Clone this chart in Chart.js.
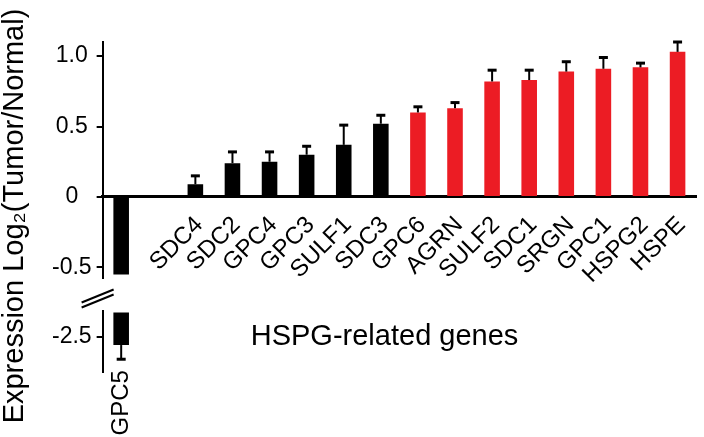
<!DOCTYPE html>
<html>
<head>
<meta charset="utf-8">
<script src="https://cdn.jsdelivr.net/npm/chart.js@4.4.1/dist/chart.umd.min.js"></script>
<style>
    html, body { margin: 0; padding: 0; background: #fff; }
    #wrap { width: 704px; height: 437px; }
</style>
</head>
<body>
<div id="wrap"><canvas id="hspgChart"></canvas></div>
<script>
// Genes (the empty slot is the gap after the GPC5 column)
const genes = ['GPC5', '', 'SDC4', 'SDC2', 'GPC4', 'GPC3', 'SULF1', 'SDC3',
    'GPC6', 'AGRN', 'SULF2', 'SDC1', 'SRGN', 'GPC1', 'HSPG2', 'HSPE'];

// Mean expression, log2(tumor/normal), and its error
const expression = [-2.56, null, 0.09, 0.24, 0.25, 0.30, 0.37, 0.52,
    0.60, 0.63, 0.82, 0.83, 0.89, 0.91, 0.92, 1.03];
const errors = [0.10, null, 0.06, 0.08, 0.07, 0.06, 0.14, 0.06,
    0.04, 0.04, 0.08, 0.07, 0.07, 0.08, 0.03, 0.07];

// Significantly up-regulated genes (red bars)
const upregulated = [false, false, false, false, false, false, false, false,
    true, true, true, true, true, true, true, true];

// Tick labels on the two parts of the broken axis
const upperTicks = [-0.5, 0, 0.5, 1.0];
const lowerTicks = [-2.5];

// The value axis is cut between these two values
const breakFrom = -0.55;
const breakTo = -2.33;

const brokenGene = 'GPC5';
const yTitle = 'Expression Log\u2082(Tumor/Normal)';
const note = 'HSPG-related genes';
const fontFamily = "'Liberation Sans', Arial, Helvetica, sans-serif";

Chart.defaults.font.family = fontFamily;
Chart.defaults.color = '#000';

// Bars above the cut and the part of the bars below it
const upperBars = expression.map(function (v) {
    return v === null ? null : Math.max(v, breakFrom);
});
const lowerBars = expression.map(function (v) {
    return v !== null && v < breakTo ? [breakTo, v] : null;
});
const barColors = upregulated.map(function (up) {
    return up ? '#ec1c24' : '#000';
});

function tickText(v) {
    return v === 0 ? '0' : v.toFixed(1);
}

// Error bars, axis break marks, y title and the note
const extras = {
    id: 'extras',
    afterDatasetsDraw(chart) {
        const ctx = chart.ctx;
        const area = chart.chartArea;
        const s = chart.scales;

        ctx.save();
        ctx.strokeStyle = '#000';
        [0, 1].forEach(function (di) {
            const meta = chart.getDatasetMeta(di);
            const yScale = s[meta.yAxisID];
            meta.data.forEach(function (bar, i) {
                const v = expression[i];
                if (v === null || v < yScale.min || v > yScale.max) return;
                const end = v < 0 ? v - errors[i] : v + errors[i];
                const y0 = yScale.getPixelForValue(v);
                const y1 = yScale.getPixelForValue(end);
                ctx.lineWidth = 2;
                ctx.beginPath();
                ctx.moveTo(bar.x, y0);
                ctx.lineTo(bar.x, y1);
                ctx.stroke();
                ctx.lineWidth = 3;
                ctx.beginPath();
                ctx.moveTo(bar.x - 4.5, y1);
                ctx.lineTo(bar.x + 4.5, y1);
                ctx.stroke();
            });
        });

        // the two slashes of the axis break
        const cy = (s.gap.top + s.gap.bottom) / 2 + 4;
        const cx = area.left - 5;
        ctx.lineWidth = 2;
        [-2.5, 2.5].forEach(function (d) {
            ctx.beginPath();
            ctx.moveTo(cx - 16, cy + d + 6.5);
            ctx.lineTo(cx + 16, cy + d - 6.5);
            ctx.stroke();
        });

        ctx.fillStyle = '#000';
        ctx.font = '29px ' + fontFamily;
        ctx.textAlign = 'center';
        ctx.textBaseline = 'middle';
        ctx.fillText(note, area.left + area.width * 0.475, s.yLow.getPixelForValue(-2.5));

        ctx.translate(15, chart.height / 2 - 2.5);
        ctx.rotate(-Math.PI / 2);
        ctx.fillText(yTitle, 0, 0);
        ctx.restore();
    }
};

const yAxisCommon = {
    type: 'linear',
    position: 'left',
    stack: 'value',
    grid: { drawOnChartArea: false, color: '#000', lineWidth: 2, tickLength: 6 },
    border: { color: '#000', width: 2 },
    ticks: { font: { size: 23 }, padding: 5, crossAlign: 'center', callback: tickText }
};

const config = {
    type: 'bar',
    data: {
        labels: genes,
        datasets: [{
            label: 'above break',
            data: upperBars,
            yAxisID: 'y',
            backgroundColor: barColors,
            grouped: false,
            categoryPercentage: 1,
            barPercentage: 0.42
        },
        {
            label: 'below break',
            data: lowerBars,
            yAxisID: 'yLow',
            backgroundColor: barColors,
            grouped: false,
            categoryPercentage: 1,
            barPercentage: 0.42
        }]
    },
    options: {
        responsive: true,
        maintainAspectRatio: false,
        animation: false,
        layout: { padding: { top: 42, right: 2, bottom: 65, left: 47 } },
        plugins: {
            legend: { display: false },
            tooltip: { enabled: false }
        },
        scales: {
            x: {
                type: 'category',
                position: { y: 0 },
                z: 1,
                grid: { display: false },
                border: { display: true, color: '#000', width: 3 },
                ticks: {
                    autoSkip: false,
                    minRotation: 45,
                    maxRotation: 45,
                    padding: 6,
                    labelOffset: 4,
                    font: { size: 24 },
                    callback: function (v, i) {
                        return genes[i] === brokenGene || genes[i] === '' ? null : genes[i];
                    }
                }
            },
            x2: {
                type: 'category',
                position: { yLow: -2.68 },
                offset: true,
                grid: { display: false },
                border: { display: false },
                ticks: {
                    autoSkip: false,
                    minRotation: 90,
                    maxRotation: 90,
                    padding: 0,
                    font: { size: 24 },
                    callback: function (v, i) {
                        return genes[i] === brokenGene ? genes[i] : null;
                    }
                }
            },
            y: Object.assign({}, yAxisCommon, {
                min: -0.575,
                max: 1.1,
                weight: 3,
                stackWeight: 236,
                afterBuildTicks: function (axis) {
                    axis.ticks = upperTicks.map(function (v) { return { value: v }; });
                }
            }),
            gap: {
                type: 'linear',
                position: 'left',
                stack: 'value',
                weight: 2,
                stackWeight: 33,
                min: 0,
                max: 1,
                grid: { display: false },
                border: { display: false },
                ticks: { display: false }
            },
            yLow: Object.assign({}, yAxisCommon, {
                min: -2.75,
                max: -2.32,
                weight: 1,
                stackWeight: 61,
                afterBuildTicks: function (axis) {
                    axis.ticks = lowerTicks.map(function (v) { return { value: v }; });
                }
            })
        }
    },
    plugins: [extras]
};

const ctx = document.getElementById('hspgChart').getContext('2d');
new Chart(ctx, config);
</script>
</body>
</html>
